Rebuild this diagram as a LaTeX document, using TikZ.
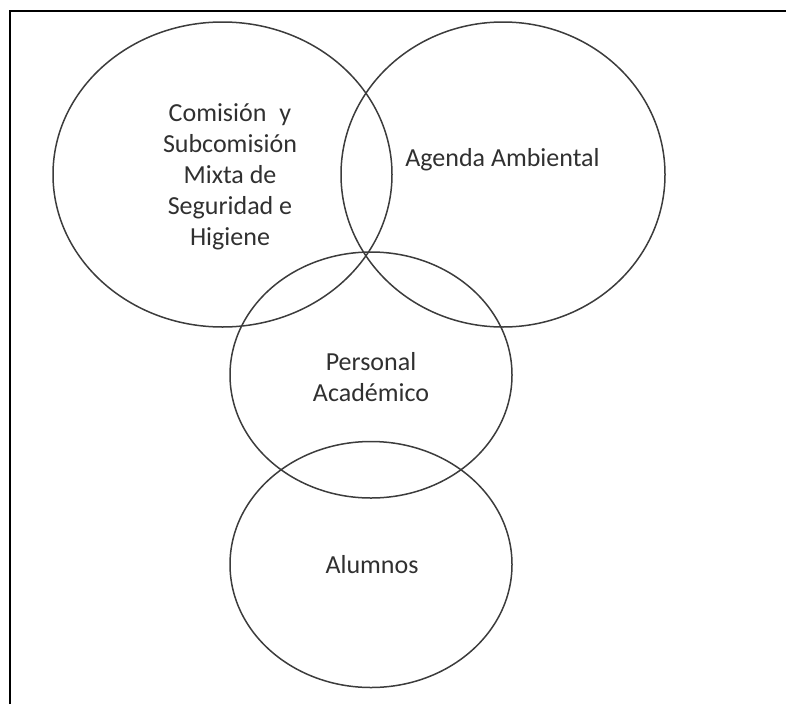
\documentclass[tikz,border=0pt]{standalone}
\usepackage{fontspec}
\setmainfont{Carlito}
\usepackage{xcolor}
\usetikzlibrary{shapes.geometric}
\definecolor{vline}{HTML}{3C3C3C}
\definecolor{vtext}{HTML}{303030}
\tikzset{
  circulo/.style={draw=vline,line width=1.5pt,ellipse,inner sep=0pt},
  rotulo/.style={text=vtext,align=center,inner sep=0pt,font=\fontsize{26}{31}\selectfont}
}

\begin{document}
\begin{tikzpicture}[x=1pt,y=-1pt]
  \useasboundingbox (0,0) rectangle (786,704);
  \pgfmathsetmacro{\rx}{141}
  \pgfmathsetmacro{\ry}{123}
  % marco
  \draw[line width=2.5pt] (10,704) -- (10,11) -- (786,11);

  \node[circulo,minimum width=339pt,minimum height=305pt] (comision) at (222.5,174.5) {};
  \node[circulo,minimum width=324pt,minimum height=305pt] (agenda) at (503,174.5) {};
  \node[circulo,minimum width=2*\rx pt,minimum height=2*\ry pt] (personal) at (371,375) {};
  \node[circulo,minimum width=2*\rx pt,minimum height=2*\ry pt] (alumnos) at (371,564.5) {};

  \node[rotulo] (comisiontxt) at (230,177) {Comisión\enspace y\\Subcomisión\\Mixta de\\Seguridad e\\Higiene};
  \node[rotulo] (agendatxt) at (502.5,160) {Agenda Ambiental};
  \node[rotulo] (personaltxt) at (371,377) {Personal\\Académico};
  \node[rotulo] (alumnostxt) at (372,565) {Alumnos};
\end{tikzpicture}
\end{document}
